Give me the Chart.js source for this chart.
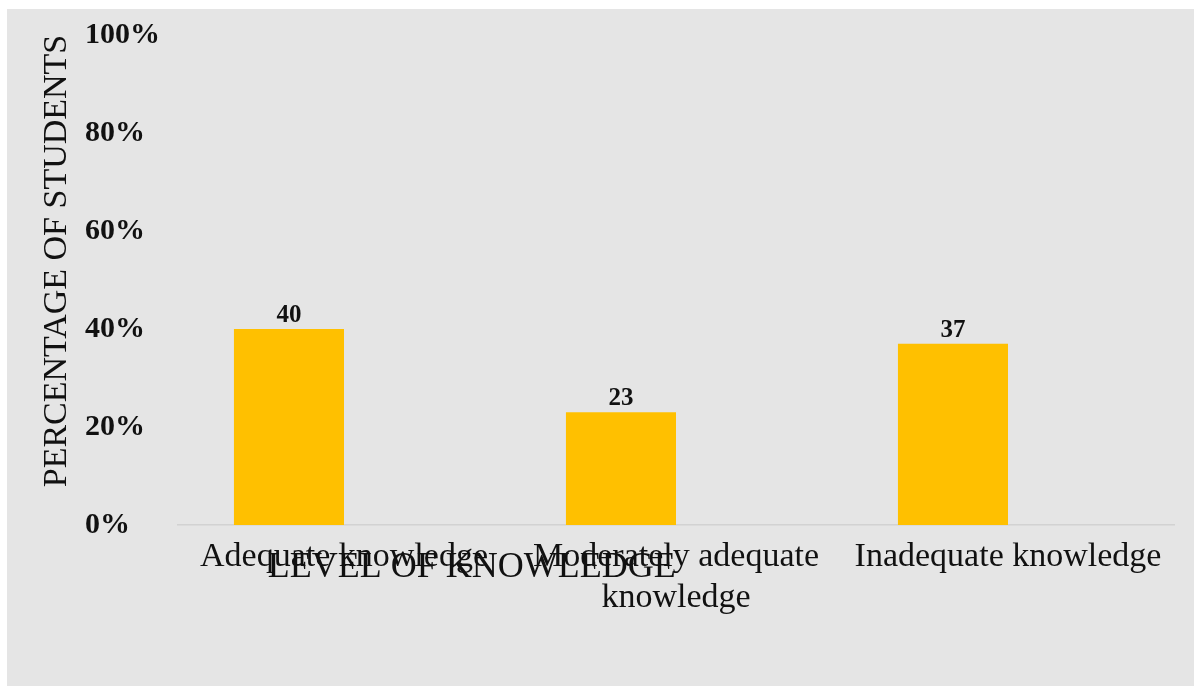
<!DOCTYPE html>
<html>
<head>
<meta charset="utf-8">
<script src="https://cdn.jsdelivr.net/npm/chart.js@4.4.0/dist/chart.umd.min.js"></script>
<style>
  html, body { margin: 0; padding: 0; background: #fff; }
  #panel { position: absolute; left: 7px; top: 9px; width: 1187px; height: 677px; background: #e5e5e5; }
  canvas { display: block; }
</style>
</head>
<body>
<div id="panel"><canvas id="chart" width="1187" height="677"></canvas></div>
<script>
// data
const categories = ['Adequate knowledge', ['Moderately adequate', 'knowledge'], 'Inadequate knowledge'];
const percentStudents = [40, 23, 37];
const blankSeries = [null, null, null]; // second (empty) series keeps bars left of centre
const yMin = 0, yMax = 100, yStep = 20;
const xTitleText = 'LEVEL OF KNOWLEDGE';
const yTitleText = 'PERCENTAGE OF STUDENTS';

const serif = "'Liberation Serif', 'Times New Roman', serif";
const ink = '#111';

// value labels above the bars
const valueLabels = {
    id: 'valueLabels',
    afterDatasetsDraw(chart) {
        const ctx = chart.ctx;
        ctx.save();
        ctx.font = `bold 25px ${serif}`;
        ctx.fillStyle = ink;
        ctx.textAlign = 'center';
        ctx.textBaseline = 'alphabetic';
        chart.data.datasets.forEach((ds, di) => {
            const meta = chart.getDatasetMeta(di);
            meta.data.forEach((bar, i) => {
                const v = ds.data[i];
                if (v == null) return;
                ctx.fillText(String(v), bar.x, bar.y - 7);
            });
        });
        ctx.restore();
    }
};

// axis titles sit off-centre in the original, so draw them here
const axisTitles = {
    id: 'axisTitles',
    afterDraw(chart) {
        const { ctx, chartArea } = chart;
        ctx.save();
        ctx.fillStyle = ink;
        ctx.textAlign = 'center';

        ctx.font = `36px ${serif}`;
        ctx.textBaseline = 'alphabetic';
        ctx.fillText(xTitleText, chartArea.left + chartArea.width * 0.295, chartArea.bottom + 52);

        ctx.font = `34px ${serif}`;
        ctx.textBaseline = 'middle';
        ctx.translate(50, (chartArea.top + chartArea.bottom) / 2 - 19);
        ctx.rotate(-Math.PI / 2);
        ctx.fillText(yTitleText, 0, 0);
        ctx.restore();
    }
};

new Chart(document.getElementById('chart').getContext('2d'), {
    type: 'bar',
    data: {
        labels: categories,
        datasets: [
            { label: 'Percentage', data: percentStudents, backgroundColor: '#FFC000', barPercentage: 1, categoryPercentage: 0.663 },
            { label: 'Blank', data: blankSeries, backgroundColor: '#FFC000', barPercentage: 1, categoryPercentage: 0.663 }
        ]
    },
    options: {
        responsive: false,
        devicePixelRatio: 1,
        animation: false,
        layout: { padding: { left: 78, top: 26, right: 20, bottom: 0 } },
        plugins: {
            legend: { display: false },
            tooltip: { enabled: false },
            title: { display: false }
        },
        scales: {
            x: {
                grid: { display: false, drawTicks: false },
                border: { display: true, color: '#d2d2d2', width: 1.5 },
                ticks: {
                    color: ink,
                    padding: 12,
                    maxRotation: 0,
                    autoSkip: false,
                    font: { family: serif, size: 34, lineHeight: 1.2 }
                },
                afterFit: scale => { scale.height = 161; }
            },
            y: {
                min: yMin,
                max: yMax,
                grid: { display: false, drawTicks: false },
                border: { display: false },
                ticks: {
                    stepSize: yStep,
                    crossAlign: 'far',
                    color: ink,
                    font: { family: serif, size: 30, weight: 'bold' },
                    callback: v => v + '%'
                },
                afterFit: scale => { scale.width = 93; }
            }
        }
    },
    plugins: [valueLabels, axisTitles]
});
</script>
</body>
</html>
